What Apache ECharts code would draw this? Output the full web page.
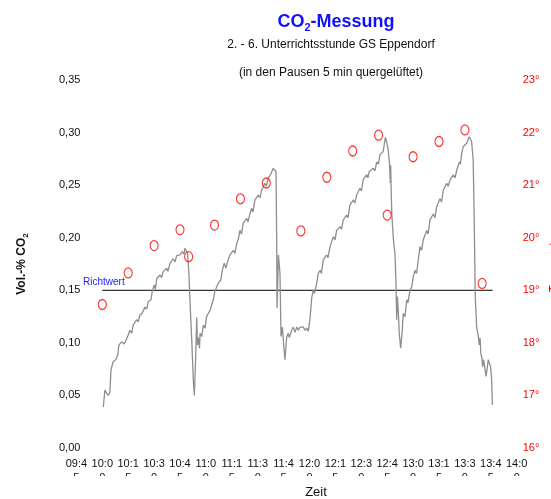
<!DOCTYPE html>
<html>
<head>
<meta charset="utf-8">
<title>CO2-Messung</title>
<script src="https://cdn.jsdelivr.net/npm/echarts@6.0.0/dist/echarts.min.js"></script>
<style>
  html, body { margin: 0; padding: 0; background: #fff; }
  #co2_chart { width: 551px; height: 499px; }
</style>
</head>
<body>
<div id="co2_chart"></div>
<script>
// Zeitachse: Beschriftungen alle 15 min
const zeitLabels = ["09:45", "10:00", "10:15", "10:30", "10:45", "11:00", "11:15", "11:30", "11:45",
  "12:00", "12:15", "12:30", "12:45", "13:00", "13:15", "13:30", "13:45", "14:00"];
const leftTicks = ["0,00", "0,05", "0,10", "0,15", "0,20", "0,25", "0,30", "0,35"];
const rightTicks = ["16°", "17°", "18°", "19°", "20°", "21°", "22°", "23°"];

// CO2-Messung: Zeit in Minuten seit Mitternacht, Wert in Vol.-%
const co2Zeit = [600.6, 601.5, 602.5, 603.4, 604.4, 605.0, 606.3, 607.7, 608.9, 609.6, 611.2, 612.7, 614.1,
  615.0, 616.0, 617.0, 617.9, 619.9, 620.8, 621.8, 623.0, 624.7, 625.7, 626.6, 628.2, 628.9, 630.1, 630.8,
  631.5, 633.4, 634.3, 635.3, 637.3, 638.0, 639.2, 641.1, 642.1, 643.1, 645.0, 646.3, 647.3, 647.9, 648.9,
  649.4, 650.2, 650.8, 651.8, 652.7, 653.3, 654.1, 654.7, 655.1, 655.6, 656.3, 656.6, 657.6, 658.5, 659.5,
  660.4, 662.4, 664.3, 665.2, 667.2, 668.7, 669.5, 670.6, 671.6, 672.5, 673.9, 675.9, 676.8, 677.8, 678.7,
  679.7, 680.6, 681.6, 683.6, 684.4, 685.5, 686.5, 687.3, 688.4, 690.3, 691.3, 692.3, 694.2, 695.1, 696.1,
  697.7, 699.0, 700.0, 700.6, 701.0, 701.2, 702.0, 702.9, 703.5, 704.3, 705.2, 705.8, 706.8, 707.7, 708.3,
  709.7, 710.6, 711.6, 712.6, 713.6, 714.5, 715.5, 716.4, 717.4, 718.4, 719.3, 720.3, 721.3, 722.2, 722.9,
  724.2, 725.1, 726.1, 726.9, 728.0, 729.9, 730.7, 731.9, 733.8, 734.8, 735.7, 737.7, 738.5, 739.6, 741.5,
  742.3, 743.4, 745.4, 746.3, 747.3, 749.2, 750.1, 751.1, 753.1, 753.8, 754.6, 756.9, 757.9, 758.9, 759.9,
  760.8, 762.7, 763.9, 764.7, 765.6, 766.3, 766.8, 767.0, 767.3, 767.7, 768.6, 769.5, 770.1, 770.5, 770.9,
  771.4, 772.0, 772.8, 773.6, 774.3, 775.3, 776.3, 777.0, 778.2, 779.2, 780.1, 781.1, 782.0, 783.0, 784.0,
  784.9, 785.9, 786.9, 787.9, 788.7, 789.8, 791.7, 792.7, 793.7, 795.6, 796.5, 797.5, 799.5, 800.3, 801.4,
  803.3, 804.3, 805.3, 806.8, 807.4, 808.1, 809.0, 810.0, 811.0, 811.8, 812.5, 813.2, 813.9, 814.8, 815.4,
  816.0, 816.8, 817.8, 818.3, 818.8, 819.2, 819.7, 820.3, 820.8, 821.2, 822.2, 822.8, 823.5, 824.1, 824.9,
  825.5, 825.9];
const co2Wert = [0.039, 0.055, 0.054, 0.050, 0.053, 0.074, 0.082, 0.084, 0.088, 0.098, 0.101, 0.099, 0.104,
  0.1075, 0.112, 0.109, 0.117, 0.122, 0.120, 0.1265, 0.128, 0.134, 0.132, 0.139, 0.141, 0.149, 0.155, 0.151,
  0.161, 0.1645, 0.162, 0.168, 0.171, 0.168, 0.1757, 0.180, 0.177, 0.183, 0.1836, 0.1867, 0.1845, 0.190, 0.1915,
  0.185, 0.1645, 0.139, 0.103, 0.065, 0.050, 0.087, 0.124, 0.098, 0.105, 0.095, 0.109, 0.106, 0.117, 0.114,
  0.125, 0.131, 0.141, 0.149, 0.157, 0.160, 0.169, 0.1757, 0.171, 0.177, 0.1836, 0.188, 0.185, 0.1947, 0.198,
  0.207, 0.2035, 0.2137, 0.2185, 0.215, 0.223, 0.228, 0.2245, 0.236, 0.2406, 0.238, 0.2454, 0.2518, 0.249, 0.2565,
  0.261, 0.266, 0.2675, 0.263, 0.198, 0.133, 0.1836, 0.166, 0.106, 0.115, 0.095, 0.084, 0.106, 0.109, 0.105,
  0.112, 0.115, 0.110, 0.115, 0.112, 0.115, 0.114, 0.115, 0.112, 0.114, 0.111, 0.123, 0.143, 0.150, 0.147,
  0.157, 0.166, 0.169, 0.166, 0.179, 0.1836, 0.181, 0.1915, 0.201, 0.198, 0.207, 0.2105, 0.208, 0.217, 0.2216,
  0.219, 0.231, 0.236, 0.233, 0.2406, 0.247, 0.2445, 0.255, 0.260, 0.257, 0.263, 0.266, 0.2635, 0.272, 0.270,
  0.279, 0.282, 0.2953, 0.291, 0.283, 0.271, 0.252, 0.269, 0.245, 0.2216, 0.198, 0.185, 0.157, 0.122, 0.144,
  0.131, 0.109, 0.095, 0.109, 0.128, 0.125, 0.141, 0.138, 0.150, 0.153, 0.163, 0.169, 0.166, 0.179, 0.1915,
  0.188, 0.198, 0.2026, 0.207, 0.2035, 0.217, 0.2226, 0.219, 0.230, 0.237, 0.234, 0.2454, 0.2518, 0.249, 0.255,
  0.2597, 0.257, 0.2644, 0.272, 0.270, 0.280, 0.2866, 0.2853, 0.2898, 0.288, 0.296, 0.294, 0.291, 0.274, 0.217,
  0.144, 0.115, 0.106, 0.098, 0.1046, 0.090, 0.087, 0.077, 0.084, 0.0806, 0.068, 0.074, 0.084, 0.0856, 0.077,
  0.065, 0.041];

// Temperatur (rechte Achse)
const tempZeit = ["10:00", "10:15", "10:30", "10:45", "10:50", "11:05", "11:20", "11:35", "11:55",
  "12:10", "12:25", "12:40", "12:45", "13:00", "13:15", "13:30", "13:40"];
const tempWert = [18.73, 19.33, 19.85, 20.15, 19.64, 20.24, 20.74, 21.04, 20.13,
  21.15, 21.65, 21.95, 20.43, 21.54, 21.83, 22.05, 19.13];

// Richtwert 0,15 Vol.-%
const richtwert = 0.15;
const richtwertZeit = ["10:00", "13:46"];

function toMin(s) {
  let p = s.split(":");
  return parseInt(p[0], 10) * 60 + parseInt(p[1], 10);
}

const font = "Liberation Sans";
let chart = echarts.init(document.getElementById("co2_chart"));

let co2Data = co2Zeit.map((t, i) => [t, co2Wert[i]]);
let tempData = tempZeit.map((t, i) => [toMin(t), tempWert[i]]);
let rwData = richtwertZeit.map(t => [toMin(t), richtwert]);

let option = {
  animation: false,
  backgroundColor: "#fff",
  title: {
    text: "{a|CO}{s|2}{a|-Messung}",
    left: 331,
    top: 6,
    textAlign: "center",
    textStyle: {
      rich: {
        a: { fontFamily: font, fontSize: 18, fontWeight: "bold", color: "#1010ff", lineHeight: 22 },
        s: { fontFamily: font, fontSize: 11, fontWeight: "bold", color: "#1010ff", lineHeight: 12, verticalAlign: "bottom" }
      }
    }
  },
  grid: { left: 76.4, right: 34.3, top: 80, bottom: 51, outerBoundsMode: "none", containLabel: false },
  xAxis: {
    type: "value",
    min: 585,
    max: 840,
    interval: 15,
    axisLine: { show: false },
    axisTick: { show: false },
    splitLine: { show: false },
    axisLabel: {
      margin: 9,
      fontFamily: font,
      fontSize: 11,
      color: "#111",
      lineHeight: 14,
      showMinLabel: true,
      showMaxLabel: true,
      hideOverlap: false,
      formatter: function (v) {
        let s = zeitLabels[Math.round((v - 585) / 15)] || "";
        return s.slice(0, 4) + "\n" + s.slice(4);
      }
    }
  },
  yAxis: [
    {
      type: "value",
      min: 0,
      max: 0.35,
      interval: 0.05,
      axisLine: { show: false },
      axisTick: { show: false },
      splitLine: { show: false },
      axisLabel: {
        margin: -4,
        fontFamily: font,
        fontSize: 11,
        color: "#111",
        formatter: function (v) {
          return leftTicks[Math.round(v / 0.05)];
        }
      },
      name: "{a|Vol.-% CO}{s|2}",
      nameLocation: "middle",
      nameRotate: 90,
      nameGap: 47,
      nameTextStyle: {
        rich: {
          a: { fontFamily: font, fontSize: 12, fontWeight: "bold", color: "#111", lineHeight: 15 },
          s: { fontFamily: font, fontSize: 8, fontWeight: "bold", color: "#111", lineHeight: 9, verticalAlign: "bottom" }
        }
      }
    },
    {
      type: "value",
      min: 16,
      max: 23,
      interval: 1,
      position: "right",
      axisLine: { show: false },
      axisTick: { show: false },
      splitLine: { show: false },
      axisLabel: {
        margin: 6,
        fontFamily: font,
        fontSize: 11,
        color: "#ff0000",
        formatter: function (v) {
          return rightTicks[Math.round(v - 16)];
        }
      }
    }
  ],
  series: [
    {
      name: "Richtwert",
      type: "line",
      data: rwData,
      symbol: "none",
      lineStyle: { color: "#000", width: 1 },
      z: 2
    },
    {
      name: "CO2",
      type: "line",
      data: co2Data,
      symbol: "none",
      lineStyle: { color: "#8e8e8e", width: 1.3 },
      z: 3
    },
    {
      name: "Temperatur",
      type: "scatter",
      yAxisIndex: 1,
      data: tempData,
      symbol: "circle",
      symbolSize: [8, 10],
      itemStyle: { color: "rgba(255,255,255,0)", borderColor: "#ff0000", borderWidth: 1.2 },
      z: 4
    }
  ],
  graphic: [
    {
      // zweite Zeile der Zeitbeschriftung ist im Original abgeschnitten
      type: "rect",
      shape: { x: 0, y: 476, width: 551, height: 10 },
      style: { fill: "#fff" },
      z: 100
    },
    {
      type: "text",
      x: 331, y: 45,
      style: { text: "2. - 6. Unterrichtsstunde GS Eppendorf", font: "12px " + font, fill: "#111", textAlign: "center", textVerticalAlign: "middle" }
    },
    {
      type: "text",
      x: 331, y: 73,
      style: { text: "(in den Pausen 5 min quergelüftet)", font: "12px " + font, fill: "#111", textAlign: "center", textVerticalAlign: "middle" }
    },
    {
      type: "text",
      x: 83, y: 282,
      style: { text: "Richtwert", font: "10px " + font, fill: "#1a1aff", textAlign: "left", textVerticalAlign: "middle" }
    },
    {
      type: "text",
      x: 316, y: 492,
      z: 101,
      style: { text: "Zeit", font: "13px " + font, fill: "#111", textAlign: "center", textVerticalAlign: "middle" }
    },
    {
      // Achsentitel rechts, im Original am Rand abgeschnitten
      type: "text",
      x: 555, y: 262,
      rotation: Math.PI / 2,
      style: { text: "Temperatur", font: "12px " + font, fill: "#ff0000", textAlign: "center", textVerticalAlign: "middle" }
    }
  ]
};
chart.setOption(option);
</script>
</body>
</html>
